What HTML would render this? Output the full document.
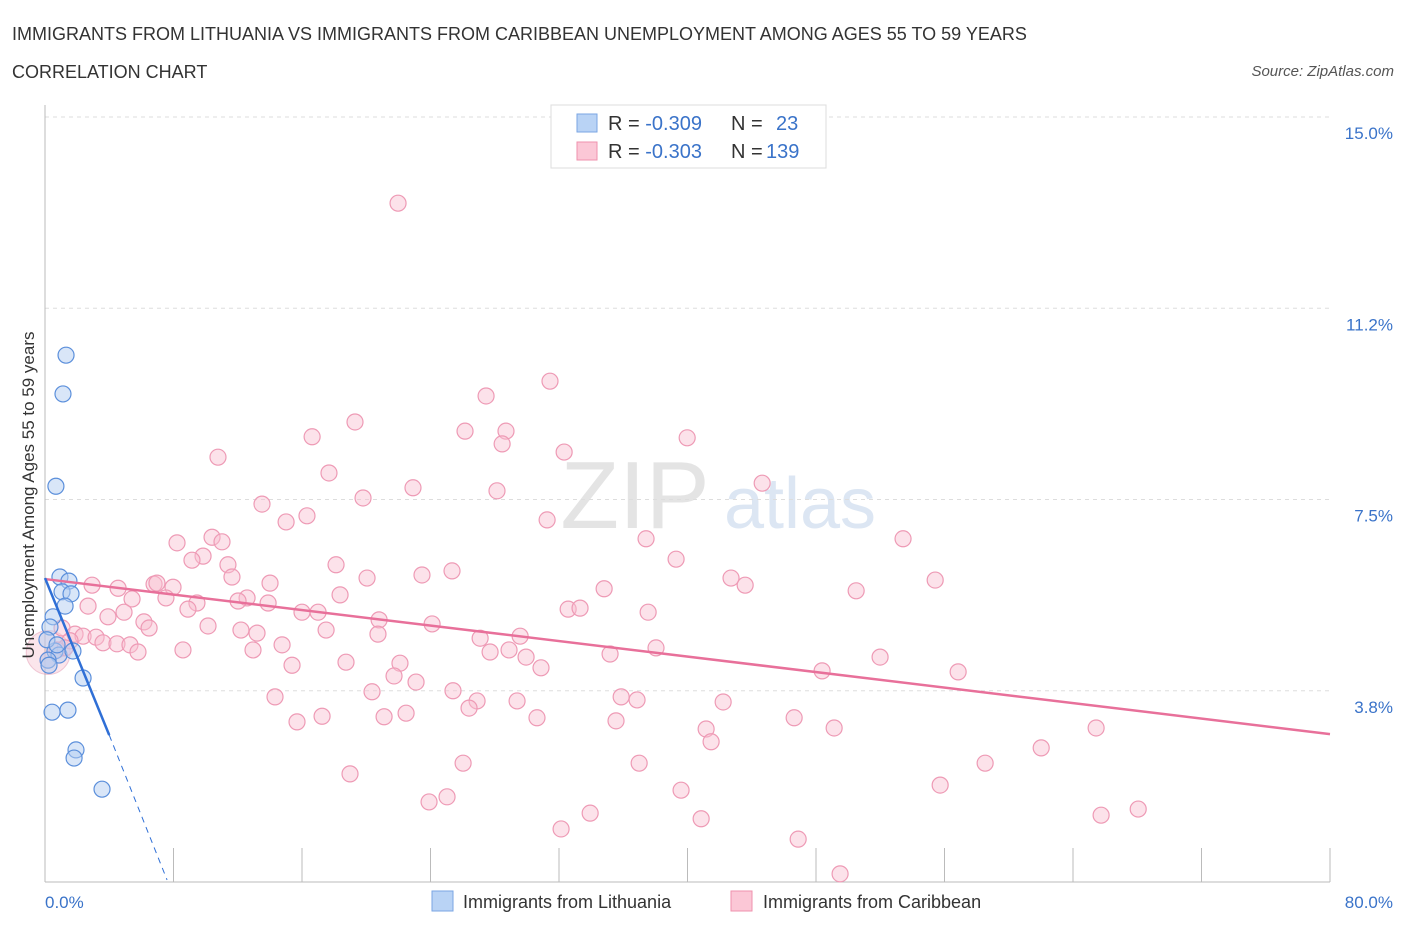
<!DOCTYPE html>
<html><head><meta charset="utf-8"><style>
body{margin:0;background:#fff;font-family:"Liberation Sans",sans-serif;}
svg text{font-family:"Liberation Sans",sans-serif;}
</style></head><body>
<svg id="chart" width="1406" height="930" xmlns="http://www.w3.org/2000/svg">
<text x="12" y="40" font-size="18" fill="#333">IMMIGRANTS FROM LITHUANIA VS IMMIGRANTS FROM CARIBBEAN UNEMPLOYMENT AMONG AGES 55 TO 59 YEARS</text>
<text x="12" y="78" font-size="18" fill="#333">CORRELATION CHART</text>
<text x="1394" y="76" font-size="15" fill="#555" font-style="italic" text-anchor="end">Source: ZipAtlas.com</text>
<g><text x="635" y="528" font-size="96" fill="#e4e4e4" text-anchor="middle" font-family="Liberation Serif">ZIP</text><text x="800" y="528" font-size="72" fill="#dce6f3" text-anchor="middle">atlas</text></g>
<g id="grid"></g>
<g id="axes"></g>
<g id="pts"></g>
<g id="lines"></g>
<text transform="translate(34,495) rotate(-90)" font-size="17" fill="#333" text-anchor="middle">Unemployment Among Ages 55 to 59 years</text>
<g>
<rect x="551" y="105" width="275" height="63" fill="#fff" stroke="#ddd"/>
<rect x="577" y="114" width="20" height="18" fill="#b9d3f5" stroke="#7aa6e3"/>
<rect x="577" y="142" width="20" height="18" fill="#fbc7d6" stroke="#ef92ad"/>
<text x="608" y="130" font-size="20" fill="#333">R = <tspan fill="#3a73c9">-0.309</tspan><tspan x="731">N = </tspan><tspan x="776" fill="#3a73c9">23</tspan></text>
<text x="608" y="158" font-size="20" fill="#333">R = <tspan fill="#3a73c9">-0.303</tspan><tspan x="731">N = </tspan><tspan x="766" fill="#3a73c9">139</tspan></text>
</g>
<g>
<rect x="432" y="891" width="21" height="20" fill="#b9d3f5" stroke="#7aa6e3"/>
<text x="463" y="908" font-size="18" fill="#333">Immigrants from Lithuania</text>
<rect x="731" y="891" width="21" height="20" fill="#fbc7d6" stroke="#ef92ad"/>
<text x="763" y="908" font-size="18" fill="#333">Immigrants from Caribbean</text>
</g>
</svg>
<script>
const xTicks=[0,8,16,24,32,40,48,56,64,72,80];
const yTicks=[3.75,7.5,11.25,15];
const yTickLabels=["3.8%","7.5%","11.2%","15.0%"];
const xTickLabels=["0.0%","80.0%"];
const blueX=[1.31,1.12,0.68,0.93,1.49,1.06,1.62,1.25,0.50,0.31,0.62,0.87,0.19,1.74,2.37,0.44,1.43,1.93,1.81,3.55,0.12,0.75,0.25];
const blueY=[10.33,9.57,7.76,5.98,5.90,5.69,5.65,5.41,5.20,5.00,4.53,4.45,4.35,4.53,4.00,3.33,3.37,2.59,2.43,1.82,4.75,4.65,4.25];
const pinkX=[21.98,31.44,27.46,19.30,16.63,26.15,28.70,39.98,28.46,10.77,32.32,17.68,22.91,28.14,19.80,44.65,13.51,16.31,15.01,31.26,10.40,11.02,8.22,37.42,53.42,9.84,9.15,18.12,11.39,39.29,25.34,23.47,11.64,20.05,42.71,55.42,2.93,4.55,6.79,6.97,7.97,14.01,34.81,43.59,50.50,18.37,5.42,7.53,9.46,12.58,12.02,13.89,2.68,4.92,16.00,17.00,32.57,33.31,37.55,3.92,20.80,8.90,24.10,6.16,10.15,6.48,12.20,13.20,17.50,20.73,1.06,1.87,2.37,3.18,3.61,4.48,5.29,5.79,8.59,12.95,14.76,27.09,29.58,1.56,27.71,28.89,29.95,35.18,38.04,18.74,22.10,15.38,30.88,48.38,51.99,56.85,21.73,23.10,20.36,25.40,14.32,26.90,29.39,35.87,36.86,42.22,26.40,22.48,17.25,21.11,15.69,30.63,35.55,46.64,41.16,49.13,65.44,41.47,62.02,18.99,26.03,36.99,58.53,55.73,39.60,25.03,23.91,33.94,40.85,65.75,68.06,32.13,46.89,49.50,0.19,0.75,1.25];
const pinkY=[13.31,9.82,9.53,9.02,8.73,8.84,8.84,8.71,8.59,8.33,8.43,8.02,7.73,7.67,7.53,7.82,7.41,7.18,7.06,7.10,6.76,6.67,6.65,6.73,6.73,6.39,6.31,6.22,6.22,6.33,6.10,6.02,5.98,5.96,5.96,5.92,5.82,5.76,5.84,5.86,5.78,5.86,5.75,5.82,5.71,5.63,5.55,5.57,5.47,5.57,5.51,5.47,5.41,5.29,5.29,5.29,5.35,5.37,5.29,5.20,5.14,5.35,5.06,5.10,5.02,4.98,4.94,4.88,4.94,4.86,4.98,4.86,4.82,4.80,4.69,4.67,4.65,4.51,4.55,4.55,4.65,4.78,4.82,4.73,4.51,4.55,4.41,4.47,4.59,4.31,4.29,4.25,4.20,4.14,4.41,4.12,4.04,3.92,3.73,3.75,3.63,3.55,3.55,3.63,3.57,3.53,3.41,3.31,3.25,3.24,3.14,3.22,3.16,3.22,3.00,3.02,3.02,2.75,2.63,2.12,2.33,2.33,2.33,1.90,1.80,1.67,1.57,1.35,1.24,1.31,1.43,1.04,0.84,0.16,4.35,4.55,4.59];
const pinkTrend=[5.94,2.90];
const blueTrend=[5.96,2.88,0.04];
const blueTrendX=[0,4.0,7.6];
const NS="http://www.w3.org/2000/svg";
const X=v=>45+v/80*1285, Y=v=>882-v*51;
function mk(t,a,p){const e=document.createElementNS(NS,t);for(const k in a)e.setAttribute(k,a[k]);p.appendChild(e);return e;}
const grid=document.getElementById('grid'),axes=document.getElementById('axes'),pts=document.getElementById('pts'),lines=document.getElementById('lines');
yTicks.forEach((t,i)=>{const l=mk('line',{x1:45,x2:1330,y1:Y(t),y2:Y(t),stroke:'#ddd','stroke-dasharray':'4,4'},grid);


const tx=mk('text',{x:1393,y:Y(t)+22,'font-size':17,fill:'#3a73c9','text-anchor':'end'},axes);tx.textContent=yTickLabels[i];

});
const ax=mk('line',{x1:45,x2:1330,y1:882,y2:882,stroke:'#bbb'},axes);


const ay=mk('line',{x1:45,x2:45,y1:105,y2:882,stroke:'#bbb'},axes);


xTicks.forEach(t=>{const l=mk('line',{x1:X(t),x2:X(t),y1:848,y2:882,stroke:'#bbb'},axes);

});
const xl0=mk('text',{x:45,y:908,'font-size':17,fill:'#3a73c9'},axes);xl0.textContent=xTickLabels[0];


const xl1=mk('text',{x:1393,y:908,'font-size':17,fill:'#3a73c9','text-anchor':'end'},axes);xl1.textContent=xTickLabels[1];


const big=mk('circle',{cx:X(0.2),cy:Y(4.5),r:22,fill:'rgba(240,150,175,0.25)',stroke:'rgba(220,130,160,0.4)'},pts);


pinkX.forEach((v,i)=>{const c=mk('circle',{cx:X(v),cy:Y(pinkY[i]),r:8,fill:'rgba(248,190,208,0.45)',stroke:'#ee9ab5','stroke-width':1.2},pts);

});
blueX.forEach((v,i)=>{const c=mk('circle',{cx:X(v),cy:Y(blueY[i]),r:8,fill:'rgba(180,205,242,0.5)',stroke:'#5b8fdb','stroke-width':1.2},pts);

});
const pl=mk('line',{x1:X(0),y1:Y(pinkTrend[0]),x2:X(80),y2:Y(pinkTrend[1]),stroke:'#e8709a','stroke-width':2.5},lines);


const bl=mk('line',{x1:X(blueTrendX[0]),y1:Y(blueTrend[0]),x2:X(blueTrendX[1]),y2:Y(blueTrend[1]),stroke:'#2f6fd6','stroke-width':2.5},lines);


const bd=mk('line',{x1:X(blueTrendX[1]),y1:Y(blueTrend[1]),x2:X(blueTrendX[2]),y2:Y(blueTrend[2]),stroke:'#2f6fd6','stroke-width':1,'stroke-dasharray':'6,5'},lines);


</script>
</body></html>
